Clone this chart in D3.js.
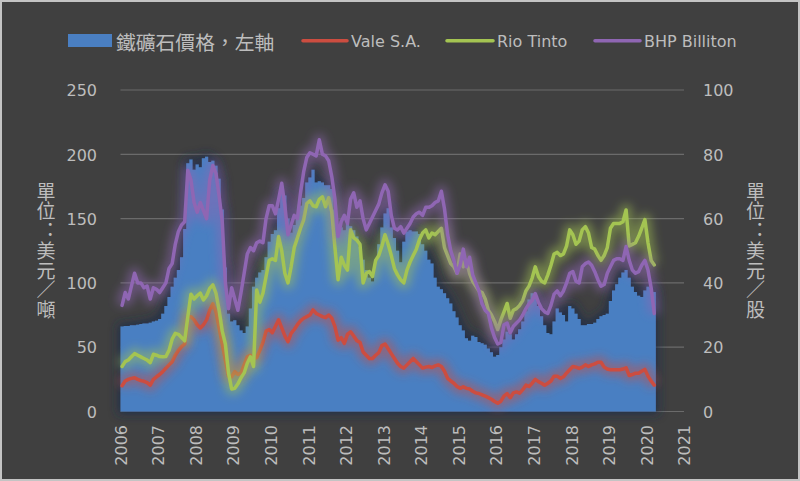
<!DOCTYPE html>
<html><head><meta charset="utf-8">
<script src="https://cdn.jsdelivr.net/npm/d3@7/dist/d3.min.js"></script>
<style>body{margin:0;background:#404040;} svg{display:block}</style>
</head><body>
<svg id="chart" width="800" height="481"></svg>
<script>
// ---------- data (monthly, Jan 2006 – Mar 2020) ----------
const startYear = 2006;
const ironOre = [
 66,66.5,66.5,67,67,67.5,68,68.5,68.5,69,70,70.5,
 72,76,82,89,97,104,110,120,142,193,196,188,
 192,190,197,198,194,195,191,181,157,112,76,70,
 71,67,63,61,66,80,97,104,108,110,120,132,
 138,141,158,170,168,150,139,145,152,160,166,178,
 182,188,178,179,178,176,176,173,157,141,143,141,
 146,144,141,136,128,118,110,104,101,118,130,143,
 154,158,143,135,125,116,132,140,141,140,140,138,
 130,125,118,115,104,97,95,92,88,84,78,73,
 67,63,57,55,59,58,54,53,52,49,46,42.5,
 44,50,56,62,60,56,60,64,70,78,87,92,
 89,82,74,67,61,60,70,80,77,75,70,82,
 80,76,72,67,67,68,68,69,72,74,75,76,
 86,94,99,104,108,110,104,97,93,90,89,94,
 97,96,93];
const vale = [
 8,9.5,10,10.3,10.5,10,9.6,9.4,9,8.2,10,10.8,
 11.5,12.4,13.5,14.5,15.5,17.5,19,20.2,21,29.5,29.5,28.5,
 27,26,27,28.5,31.5,33.5,31,26,21,16,11,10.8,
 12.4,11.5,12,14.5,17,17.5,16.5,16.8,19,21.5,25,25.5,
 24.5,26.5,28.5,26,23.5,21.7,24.3,25.5,27,28.2,29,29.5,
 30,31.6,30.5,30,29.5,29.2,30,29,26.4,22.2,23,21.2,
 24,24.8,23.5,22,21.5,18.5,17.5,16.5,16.5,17.5,18.3,20.5,
 21,19.5,18,16.5,15,14,13.5,14.5,15.5,16.5,15.5,14.5,
 13.5,13.8,14,13.7,14.2,14.5,14,12.5,10.3,9.5,8.8,7.8,
 7.2,7.7,7.2,7,6.3,5.8,5.6,5.2,4.8,4.3,3.8,3.1,
 2.6,3.2,4.8,5.6,4.3,5.8,6.1,5.7,6.8,8.2,7.8,8.8,
 10,9.3,8.8,8.2,8.8,9.5,11,11,10.3,10.8,12,13,
 14,13.8,13.4,13.8,14.5,14,14.5,14.8,15.3,15.3,13.8,13.2,
 13,13,13,13,13.2,13.6,11.2,11.5,11.9,11.9,12.5,13.1,
 11,9.5,8.2];
const rioTinto = [
 14,15.5,16,17,18,17.5,17,16.5,16,15.2,17.8,17.5,
 17.1,17,17.1,19,22.5,24.3,24,23,22,29.5,36.5,35,
 36,36.8,34.7,36,38.3,39.4,36.8,31.6,25,21,12,7,
 7.2,8.6,10.5,12,15,17,14,37.8,34,36.8,42,47,
 47.5,47,54.4,50,43,40,45,51,54,57,59.6,64.7,
 65.5,64,63.7,66,66.8,63.7,66.5,62,51,41,48,45.5,
 44,56.5,54,53.3,52,40,43,43.5,42,47,48.5,51.5,
 55,52,48.5,44.5,42.5,41,40,44,46.5,48.5,50.5,53.5,
 55.5,56.5,54,55.5,55,56,57,51,48.5,46,45,43,
 49,45,47,43,40.5,39,37.5,37,35,31.5,30,28,
 25.5,28.5,31,33.6,29,31.5,32,33,34.5,37.5,39,41.5,
 45,42,40.5,40,42.5,45.5,49,49.5,48.5,49,51.5,56.5,
 55,52,53,56.5,57.5,55.5,51,50.5,48.5,47,48.5,51,
 57,58.5,58.5,58.5,59,62.7,51.5,52,52.5,54.5,57,59.7,
 52.5,47,45.6];
const bhp = [
 33,37,35,39,43,40,40,38.5,39,35,38.5,38,
 37,38.5,40,44.5,46,52,56,58,59,75,72,65,
 62,65,62.5,60,72,76.5,74,67,59,40,32,38.5,
 35,31.5,37,43,49,51,50,52.5,53,52.5,60,64,
 64,61.5,66,71,64,55,58,61,60,68,74.5,79,
 80.5,80,79.5,84.5,80,79.5,78,73,66,54.5,59,61,
 58.5,66,68,63.5,65.5,60,56.5,58.5,60.5,62.5,64.5,68,
 70.5,68.5,61,57,56.5,57.5,55.5,57,58.5,60.5,61.5,62,
 61,63.5,63.5,64,65,65.5,68.5,63,55,50,47,43,
 45.5,50.5,45,48,42.5,40,37.5,33.5,31.5,30.5,26,23,
 21,21.5,27,27.5,24.5,26.5,27.5,28.5,30,32,33.5,34.5,
 36.7,34,32,31,30.5,33,36.5,37.5,36,37.5,40,43,
 43.5,40.5,40,45,46,46.5,45.5,43.5,41,39,39.5,43,
 45,47,47.5,47.5,47,51.3,47,44,43,43.5,45.5,47,
 44,38.5,30.5];
const leftTicks = [0,50,100,150,200,250];
const rightTicks = [0,20,40,60,80,100];
const yearTicks = d3.range(2006, 2022);
const legendLabels = ["鐵礦石價格，左軸","Vale S.A.","Rio Tinto","BHP Billiton"];
const leftTitle = "單位：美元／噸";
const rightTitle = "單位：美元／股";

// ---------- drawing ----------
const W = 800, H = 481;
const colors = {ore:"#4a7fc2", vale:"#cc4d40", rio:"#a4c452", bhp:"#8f66b3"};
const textCol = "#bdbdbd";
const latinFont = "'DejaVu Sans','Noto Sans CJK TC',sans-serif";
const cjkFont = "'Noto Sans CJK TC','DejaVu Sans',sans-serif";

const svg = d3.select("#chart");
svg.append("rect").attr("width",W).attr("height",H).attr("fill","#404040");

const defs = svg.append("defs");
const fA = defs.append("filter").attr("id","areaGlow").attr("filterUnits","userSpaceOnUse")
  .attr("x",0).attr("y",0).attr("width",W).attr("height",H);
fA.append("feMorphology").attr("in","SourceAlpha").attr("operator","dilate").attr("radius",3).attr("result","d");
fA.append("feGaussianBlur").attr("in","d").attr("stdDeviation",5).attr("result","b");
fA.append("feFlood").attr("flood-color","#1c2c4a").attr("flood-opacity",0.75).attr("result","c");
fA.append("feComposite").attr("in","c").attr("in2","b").attr("operator","in").attr("result","g");
const mA = fA.append("feMerge");
mA.append("feMergeNode").attr("in","g");
mA.append("feMergeNode").attr("in","SourceGraphic");

const fL = defs.append("filter").attr("id","lineGlow").attr("filterUnits","userSpaceOnUse")
  .attr("x",0).attr("y",0).attr("width",W).attr("height",H);
fL.append("feGaussianBlur").attr("stdDeviation",5);

const x = d3.scaleLinear().domain([2006, 2021]).range([120.5, 684]);
const yL = d3.scaleLinear().domain([0, 250]).range([411.5, 90]);
const yR = d3.scaleLinear().domain([0, 100]).range([411.5, 90]);
const t = m => startYear + m / 12;

// gridlines
svg.append("g").selectAll("line").data(leftTicks).join("line")
  .attr("x1", x(2006)).attr("x2", x(2021))
  .attr("y1", d => yL(d)).attr("y2", d => yL(d))
  .attr("stroke", "#6b6b6b").attr("stroke-width", 1.2);

// iron ore monthly columns (gap-free, drawn as a stepped area)
const oreSteps = ironOre.map((v, m) => ({m, v})).concat([{m: ironOre.length, v: ironOre[ironOre.length - 1]}]);
const oreArea = d3.area().curve(d3.curveStepAfter)
  .x(d => x(t(d.m))).y0(yL(0)).y1(d => yL(d.v));
svg.append("path").datum(oreSteps).attr("d", oreArea)
  .attr("fill", colors.ore).attr("filter","url(#areaGlow)");

// lines
const line = d3.line().x((d, i) => x(t(i + 0.5))).y(d => yR(d));
[[vale, colors.vale], [rioTinto, colors.rio], [bhp, colors.bhp]].forEach(([s, c]) => {
  svg.append("path").datum(s).attr("d", line).attr("fill","none")
    .attr("stroke", c).attr("stroke-width", 12).attr("stroke-opacity", 0.5)
    .attr("stroke-linejoin","round").attr("filter","url(#lineGlow)");
  svg.append("path").datum(s).attr("d", line).attr("fill","none")
    .attr("stroke", c).attr("stroke-width", 3.5)
    .attr("stroke-linejoin","round").attr("stroke-linecap","round");
});

// axes
const axL = svg.append("g").attr("transform","translate(97,0)")
  .call(d3.axisLeft(yL).tickValues(leftTicks).tickSize(0).tickPadding(0));
const axR = svg.append("g").attr("transform","translate(703,0)")
  .call(d3.axisRight(yR).tickValues(rightTicks).tickSize(0).tickPadding(0));
const axB = svg.append("g").attr("transform","translate(0,411.5)")
  .call(d3.axisBottom(x).tickValues(yearTicks).tickFormat(d3.format("d")).tickSize(0));
[axL, axR, axB].forEach(a => {
  a.select(".domain").remove();
  a.selectAll("text").attr("fill", textCol).style("font-family", latinFont).style("font-size","16px");
});
axL.selectAll("text").attr("dy","0.36em");
axR.selectAll("text").attr("dy","0.36em");
axB.selectAll("text").attr("transform","rotate(-90)").attr("x",-13.5).attr("y",0)
  .attr("dy","0.36em").style("text-anchor","end");

// axis titles: vertical writing, upright glyphs
function vTitle(str, cx) {
  svg.append("text").attr("x", cx).attr("y", 182)
    .style("writing-mode","vertical-rl").style("text-orientation","upright")
    .style("font-feature-settings","'vert' 0, 'vrt2' 0")
    .style("letter-spacing","0.7px")
    .attr("fill", textCol).style("font-family", cjkFont).style("font-size","19px")
    .text(str);
}
vTitle(leftTitle, 46);
vTitle(rightTitle, 755.5);

// legend
const lg = svg.append("g");
lg.append("rect").attr("x",68).attr("y",34).attr("width",44).attr("height",13).attr("fill",colors.ore);
const legendLines = [[303,347,colors.vale],[447,493,colors.rio],[595,640,colors.bhp]];
legendLines.forEach(([a,b,c]) => {
  lg.append("line").attr("x1",a).attr("x2",b).attr("y1",40.7).attr("y2",40.7)
    .attr("stroke",c).attr("stroke-width",3.5).attr("stroke-linecap","round");
});
const legendX = [116, 351, 497, 644];
lg.selectAll("text").data(legendLabels).join("text")
  .attr("x", (d, i) => legendX[i]).attr("y", 41)
  .attr("dominant-baseline","central").attr("fill", textCol)
  .style("font-family", (d, i) => i === 0 ? cjkFont : latinFont)
  .style("font-size", (d, i) => i === 0 ? "19.8px" : "16px")
  .text(d => d);

// frame
svg.append("rect").attr("x",1).attr("y",1).attr("width",W-2).attr("height",H-2)
  .attr("fill","none").attr("stroke","#c4c4c4").attr("stroke-width",2);
</script>
</body></html>
